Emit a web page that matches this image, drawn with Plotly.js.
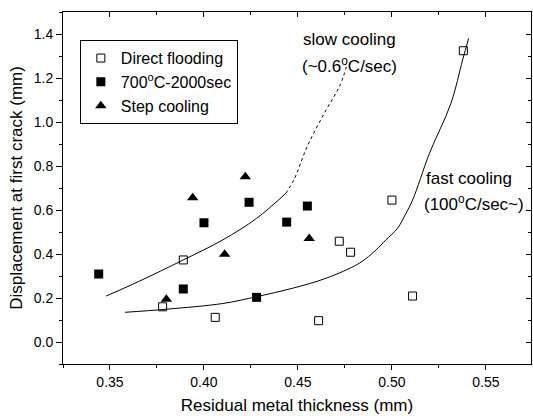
<!DOCTYPE html>
<html>
<head>
<meta charset="utf-8">
<script src="https://cdn.plot.ly/plotly-3.0.1.min.js"></script>
<style>html,body{margin:0;padding:0;background:#fff;}#chart{width:533px;height:416px;}</style>
</head>
<body>
<div id="chart"></div>
<script>
// Direct flooding (open squares)
const directX = [0.378, 0.389, 0.406, 0.461, 0.472, 0.478, 0.500, 0.511, 0.538];
const directY = [0.160, 0.373, 0.112, 0.097, 0.458, 0.408, 0.645, 0.209, 1.324];
// 700°C-2000sec (filled squares)
const heatX = [0.344, 0.389, 0.400, 0.424, 0.428, 0.444, 0.455];
const heatY = [0.309, 0.241, 0.542, 0.635, 0.203, 0.545, 0.618];
// Step cooling (triangles)
const stepX = [0.380, 0.394, 0.411, 0.422, 0.456];
const stepY = [0.194, 0.656, 0.399, 0.751, 0.470];
// slow cooling curve: solid then dashed
const slowSolidX = [0.348, 0.365, 0.389, 0.410, 0.428, 0.4436];
const slowSolidY = [0.209, 0.274, 0.373, 0.464, 0.562, 0.676];
const slowDashX = [0.4436, 0.448, 0.455, 0.465, 0.472, 0.4758];
const slowDashY = [0.676, 0.740, 0.890, 1.055, 1.160, 1.250];
// fast cooling curve
const fastX = [0.358, 0.380, 0.410, 0.428, 0.447, 0.465, 0.4826, 0.4915, 0.4968, 0.503, 0.5075, 0.511, 0.520, 0.5314, 0.5376, 0.5408];
const fastY = [0.135, 0.149, 0.175, 0.206, 0.244, 0.290, 0.358, 0.418, 0.464, 0.517, 0.585, 0.645, 0.858, 1.085, 1.282, 1.380];

const xRange = [0.325, 0.574];
const yRange = [-0.1, 1.5];

const traces = [
  {x: slowSolidX, y: slowSolidY, mode: 'lines', line: {color: '#000', width: 1, shape: 'spline', smoothing: 1}, showlegend: false, hoverinfo: 'skip'},
  {x: slowDashX, y: slowDashY, mode: 'lines', line: {color: '#000', width: 1, dash: '3px,3px', shape: 'spline', smoothing: 1}, showlegend: false, hoverinfo: 'skip'},
  {x: fastX, y: fastY, mode: 'lines', line: {color: '#000', width: 1, shape: 'spline', smoothing: 1}, showlegend: false, hoverinfo: 'skip'},
  {x: directX, y: directY, mode: 'markers', name: 'Direct flooding',
   marker: {symbol: 'square-open', size: 8, color: '#000', line: {width: 1, color: '#000'}}},
  {x: heatX, y: heatY, mode: 'markers', name: '700<sup>o</sup>C-2000sec',
   marker: {symbol: 'square', size: 9, color: '#000'}},
  {x: stepX, y: stepY, mode: 'markers', name: 'Step cooling',
   marker: {symbol: 'triangle-up', size: 10, color: '#000'}},
  {x: [], y: [], xaxis: 'x2', yaxis: 'y2', showlegend: false, hoverinfo: 'skip'}
];

const fam = 'Liberation Sans, Arial, sans-serif';
const layout = {
  width: 533, height: 416,
  margin: {l: 63, r: 2, t: 12, b: 52},
  paper_bgcolor: '#fff', plot_bgcolor: '#fff',
  font: {family: fam, color: '#000', size: 14},
  showlegend: true,
  legend: {x: 0.036, y: 0.92, xanchor: 'left', yanchor: 'top',
           bordercolor: '#000', borderwidth: 1, bgcolor: '#fff',
           entrywidth: 160, entrywidthmode: 'pixels',
           font: {family: fam, size: 16, color: '#000'}, tracegroupgap: 0},
  xaxis: {range: xRange, showgrid: false, zeroline: false, showline: true, linecolor: '#000', linewidth: 1,
          ticks: 'outside', ticklen: 5, tickcolor: '#000', dtick: 0.05, tick0: 0.35, tickformat: '.2f',
          minor: {ticks: 'outside', ticklen: 3, dtick: 0.025, tick0: 0.325, tickcolor: '#000'},
          tickfont: {family: fam, size: 14, color: '#000'},
          title: {text: 'Residual metal thickness (mm)', font: {family: fam, size: 17, color: '#000'}, standoff: 10}},
  yaxis: {range: yRange, showgrid: false, zeroline: false, showline: true, linecolor: '#000', linewidth: 1,
          ticks: 'outside', ticklen: 6, tickcolor: '#000', dtick: 0.2, tick0: 0, tickformat: '.1f',
          minor: {ticks: 'outside', ticklen: 3, dtick: 0.1, tick0: 0, tickcolor: '#000'},
          tickfont: {family: fam, size: 14, color: '#000'},
          title: {text: 'Displacement at first crack (mm)', font: {family: fam, size: 17, color: '#000'}, standoff: 6}},
  xaxis2: {range: xRange, overlaying: 'x', side: 'top', showgrid: false, zeroline: false, showline: true,
           linecolor: '#000', linewidth: 1, ticks: 'inside', ticklen: 5, tickcolor: '#000', dtick: 0.05, tick0: 0.35,
           showticklabels: false, minor: {ticks: 'inside', ticklen: 3, dtick: 0.025, tick0: 0.325, tickcolor: '#000'}},
  yaxis2: {range: yRange, overlaying: 'y', side: 'right', showgrid: false, zeroline: false, showline: true,
           linecolor: '#000', linewidth: 1, ticks: 'inside', ticklen: 5, tickcolor: '#000', dtick: 0.2, tick0: 0,
           showticklabels: false, minor: {ticks: 'inside', ticklen: 3, dtick: 0.1, tick0: 0, tickcolor: '#000'}},
  annotations: [
    {text: 'slow cooling', x: 0.4775, y: 1.373, xref: 'x', yref: 'y', showarrow: false, font: {family: fam, size: 17, color: '#000'}},
    {text: '(~0.6<sup>o</sup>C/sec)', x: 0.4775, y: 1.259, xref: 'x', yref: 'y', showarrow: false, font: {family: fam, size: 17, color: '#000'}},
    {text: 'fast cooling', x: 0.541, y: 0.745, xref: 'x', yref: 'y', showarrow: false, font: {family: fam, size: 17, color: '#000'}},
    {text: '(100<sup>o</sup>C/sec~)', x: 0.5437, y: 0.63, xref: 'x', yref: 'y', showarrow: false, font: {family: fam, size: 17, color: '#000'}}
  ]
};

Plotly.newPlot('chart', traces, layout, {displayModeBar: false, staticPlot: true});
</script>
</body>
</html>
